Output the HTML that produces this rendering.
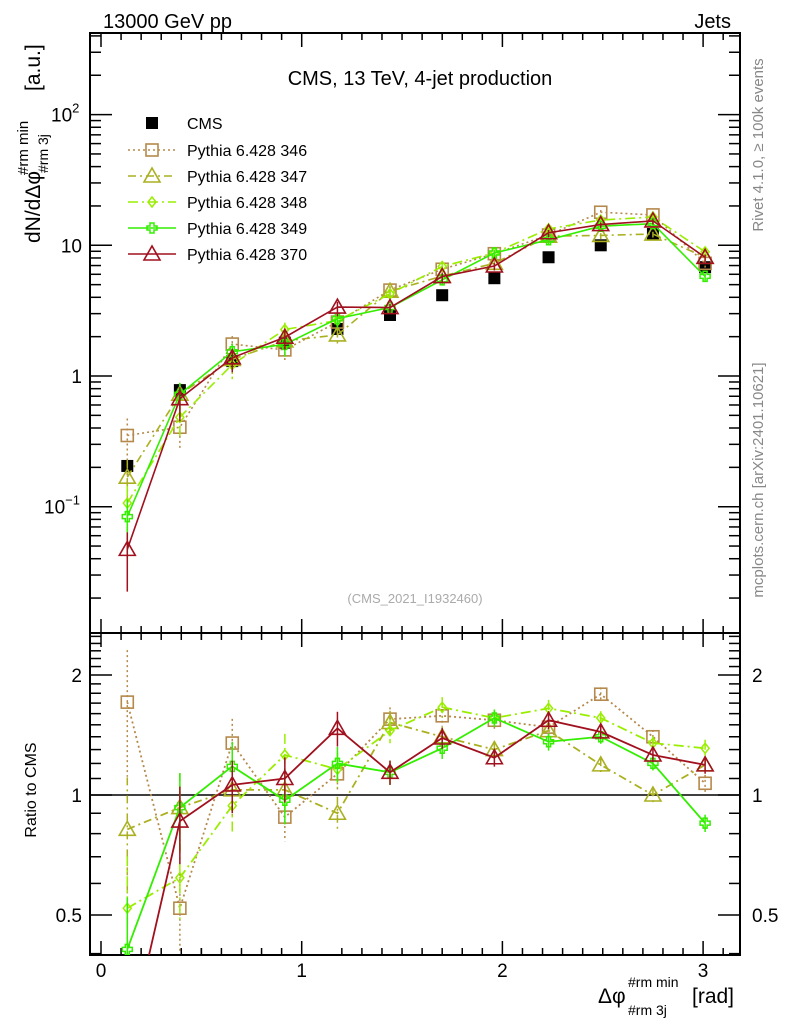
<!DOCTYPE html>
<html><head><meta charset="utf-8"><style>
html,body{margin:0;background:#fff;overflow:hidden;width:786px;height:1024px}
svg{display:block;font-family:"Liberation Sans",sans-serif}
</style></head><body>
<svg id="c" width="786" height="1024" viewBox="0 0 786 1024" xmlns="http://www.w3.org/2000/svg">
<text x="103" y="28" font-size="20">13000 GeV pp</text>
<text x="731" y="28" font-size="20" text-anchor="end">Jets</text>
<text x="420" y="85" font-size="20" text-anchor="middle">CMS, 13 TeV, 4-jet production</text>
<text x="415" y="603" font-size="13" fill="#aaa" text-anchor="middle">(CMS_2021_I1932460)</text>
<text transform="translate(763,145) rotate(-90)" font-size="15" fill="#888" text-anchor="middle">Rivet 4.1.0, ≥ 100k events</text>
<text transform="translate(763,480) rotate(-90)" font-size="15" fill="#888" text-anchor="middle">mcplots.cern.ch [arXiv:2401.10621]</text>
<g transform="translate(40,243) rotate(-90)">
<text x="0" y="0" font-size="21">dN/dΔφ</text>
<text x="68" y="-12" font-size="15">#rm min</text>
<text x="70" y="8" font-size="14">#rm 3j</text>
<text x="152" y="0" font-size="21">[a.u.]</text>
</g>
<text transform="translate(36,790) rotate(-90)" font-size="16" text-anchor="middle">Ratio to CMS</text>
<g>
<text x="598" y="1003" font-size="21">Δφ</text>
<text x="628" y="987" font-size="14">#rm min</text>
<text x="628" y="1015" font-size="14">#rm 3j</text>
<text x="692" y="1003" font-size="21">[rad]</text>
</g>
<g id="g"></g>
</svg>
<script>
const xCenters=[0.131,0.393,0.654,0.916,1.178,1.44,1.70,1.96,2.23,2.49,2.75,3.01];
const cmsVals=[0.205,0.78,1.3,1.8,2.29,2.93,4.15,5.6,8.1,10,12.2,6.8];
const r346=[1.71,0.52,1.35,0.88,1.13,1.55,1.58,1.54,1.48,1.79,1.40,1.07];
const r347=[0.82,0.93,1.03,1.03,0.90,1.52,1.40,1.30,1.45,1.19,1.0,1.19];
const r348=[0.52,0.62,0.94,1.26,1.16,1.45,1.66,1.56,1.65,1.56,1.35,1.31];
const r349=[0.41,0.93,1.18,0.97,1.20,1.14,1.31,1.56,1.36,1.40,1.20,0.85];
const r370=[0.23,0.86,1.06,1.10,1.47,1.14,1.39,1.24,1.54,1.44,1.26,1.19];
const relErr=[0.35,0.22,0.15,0.13,0.10,0.07,0.06,0.05,0.05,0.04,0.04,0.05];
const xTicks=[0,1,2,3];
const series=[
 {name:'Pythia 6.428 346',r:r346,col:'#b5894b',dash:'2,3',mk:'sq'},
 {name:'Pythia 6.428 347',r:r347,col:'#aab020',dash:'8,4,2,4',mk:'tri'},
 {name:'Pythia 6.428 348',r:r348,col:'#99ee00',dash:'10,4,2,4',mk:'dia'},
 {name:'Pythia 6.428 349',r:r349,col:'#33ee00',dash:'',mk:'cross'},
 {name:'Pythia 6.428 370',r:r370,col:'#a0101e',dash:'',mk:'tri'}];
const L=90,R=740,T=33,MB=633,RB=955;
const X=v=>101+v*200.7;
const YM=v=>376-Math.log10(v)*130.7;
const YR=v=>795-Math.log2(v)*120;
const NS='http://www.w3.org/2000/svg',g=document.getElementById('g');
function el(t,a,p){const e=document.createElementNS(NS,t);for(const k in a)e.setAttribute(k,a[k]);(p||g).appendChild(e);return e;}
const defs=el('defs',{});
const c1=el('clipPath',{id:'cm'},defs);el('rect',{x:L,y:T,width:R-L,height:MB-T},c1);
const c2=el('clipPath',{id:'cr'},defs);el('rect',{x:L,y:MB,width:R-L,height:RB-MB},c2);
let f=el('rect',{x:L,y:T,width:R-L,height:MB-T,fill:'none',stroke:'#000','stroke-width':2});

f=el('rect',{x:L,y:MB,width:R-L,height:RB-MB,fill:'none',stroke:'#000','stroke-width':2});

let ln=el('line',{x1:L,x2:R,y1:YR(1),y2:YR(1),stroke:'#000','stroke-width':1.5});

for(let v=-0.05;v<=3.18;v+=0.1){const x=X(Math.round(v*10)/10);if(x<L||x>R)continue;const maj=Math.abs(Math.round(v*10)%10)===0;const len=maj?14:7;
 [[MB,-1],[RB,-1],[T,1],[MB,1]].forEach(([y,d])=>el('line',{x1:x,x2:x,y1:y,y2:y+d*len,stroke:'#000','stroke-width':1.5}));}
xTicks.forEach(v=>{const t=el('text',{x:X(v),y:977,'font-size':19,'text-anchor':'middle'});t.textContent=v;
 });
for(let e=-2;e<=2;e++)for(let m=1;m<10;m++){const v=m*Math.pow(10,e);const y=YM(v);if(y<T||y>MB)continue;const len=m===1?22:11;
 el('line',{x1:L,x2:L+len,y1:y,y2:y,stroke:'#000','stroke-width':1.5});el('line',{x1:R,x2:R-len,y1:y,y2:y,stroke:'#000','stroke-width':1.5});}
[[100,'10','2'],[10,'10',''],[1,'1',''],[0.1,'10','−1']].forEach(([v,b,s])=>{const t=el('text',{x:82,y:YM(v)+7,'font-size':19,'text-anchor':'end'});
 t.textContent=b;if(s){const ts=el('tspan',{'font-size':13,dy:-9},t);ts.textContent=s;t.setAttribute('text-anchor','start');t.setAttribute('x',s==='2'?51:44);}
 });
[0.4,0.5,0.6,0.7,0.8,0.9,1,1.1,1.2,1.3,1.4,1.5,1.6,1.7,1.8,1.9,2,2.1,2.2,2.3,2.4,2.5].forEach(v=>{const y=YR(v);if(y<MB||y>RB)return;const len=(v===0.5||v===1||v===2)?22:11;
 el('line',{x1:L,x2:L+len,y1:y,y2:y,stroke:'#000','stroke-width':1.5});el('line',{x1:R,x2:R-len,y1:y,y2:y,stroke:'#000','stroke-width':1.5});});
[[2,'2'],[1,'1'],[0.5,'0.5']].forEach(([v,s])=>{[[82,'end'],[752,'start']].forEach(([x,a])=>{const t=el('text',{x:x,y:YR(v)+7,'font-size':19,'text-anchor':a});t.textContent=s;
 });});
function marker(p,type,x,y,col){
 if(type==='sq')return el('rect',{x:x-6,y:y-6,width:12,height:12,fill:'none',stroke:col,'stroke-width':1.6},p);
 if(type==='tri')return el('polygon',{points:`${x},${y-8} ${x-8},${y+6} ${x+8},${y+6}`,fill:'none',stroke:col,'stroke-width':1.6},p);
 if(type==='dia')return el('polygon',{points:`${x},${y-5} ${x-4},${y} ${x},${y+5} ${x+4},${y}`,fill:'none',stroke:col,'stroke-width':1.5},p);
 if(type==='cross')return el('path',{d:`M${x-2},${y-5}h4v3h3v4h-3v3h-4v-3h-3v-4h3z`,fill:'none',stroke:col,'stroke-width':1.5},p);
 return el('rect',{x:x-6,y:y-6,width:12,height:12,fill:col},p);
}
function drawSeries(s){
 const gm=el('g',{'clip-path':'url(#cm)'});
 const gr=el('g',{'clip-path':'url(#cr)'});
 const vals=cmsVals.map((c,j)=>c*s.r[j]);
 const dash=s.dash?{'stroke-dasharray':s.dash}:{};
 el('polyline',Object.assign({points:vals.map((v,j)=>X(xCenters[j])+','+YM(v)).join(' '),fill:'none',stroke:s.col,'stroke-width':1.6},dash),gm);
 el('polyline',Object.assign({points:s.r.map((v,j)=>X(xCenters[j])+','+YR(v)).join(' '),fill:'none',stroke:s.col,'stroke-width':1.8},dash),gr);
 vals.forEach((v,j)=>{const x=X(xCenters[j]),e=relErr[j];
  el('line',Object.assign({x1:x,x2:x,y1:YM(v*(1+e)),y2:YM(Math.max(v*(1-e*1.5),1e-3)),stroke:s.col,'stroke-width':1.5},dash),gm);
  el('line',Object.assign({x1:x,x2:x,y1:YR(s.r[j]*(1+e)),y2:YR(Math.max(s.r[j]*(1-e),0.01)),stroke:s.col,'stroke-width':1.5},dash),gr);
  marker(gm,s.mk,x,YM(v),s.col);marker(gr,s.mk,x,YR(s.r[j]),s.col);});
}
const gc=el('g',{'clip-path':'url(#cm)'});
cmsVals.forEach((v,j)=>{const x=X(xCenters[j]);el('line',{x1:x,x2:x,y1:YM(v*1.08),y2:YM(v*0.92),stroke:'#000','stroke-width':1.5},gc);marker(gc,'fill',x,YM(v),'#000');});
series.forEach(drawSeries);
const lg=el('g',{});
const ly=[123,150,176,202,228,254];
let e0=el('g',{},lg);
marker(e0,'fill',152,ly[0],'#000');let tt=el('text',{x:187,y:ly[0]+6,'font-size':16},e0);tt.textContent='CMS';
series.forEach((s,i)=>{const e=el('g',{},lg);
 const y=ly[i+1];el('line',Object.assign({x1:128,x2:176,y1:y,y2:y,stroke:s.col,'stroke-width':1.6},s.dash?{'stroke-dasharray':s.dash}:{}),e);
 marker(e,s.mk,152,y,s.col);const t=el('text',{x:187,y:y+6,'font-size':16},e);t.textContent=s.name;});
</script>
</body></html>
